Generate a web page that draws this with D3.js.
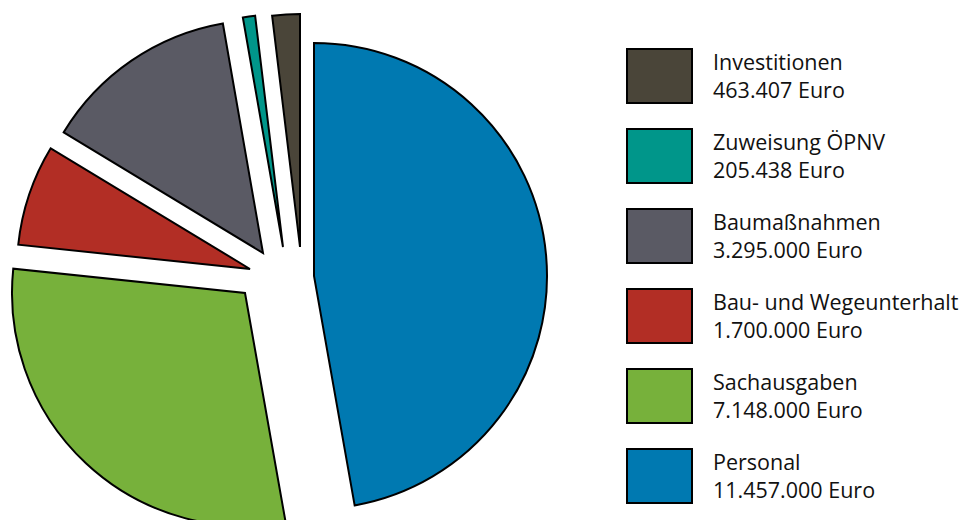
<!DOCTYPE html>
<html>
<head>
<meta charset="utf-8">
<script src="https://cdn.jsdelivr.net/npm/d3@7"></script>
<style>
  html, body { margin: 0; padding: 0; background: #fff; }
  svg { display: block; }
  .legend text { font-family: "Open Sans", "Noto Sans", sans-serif; font-size: 21.5px; fill: #111; font-variant-ligatures: none; }
</style>
</head>
<body>
<div id="chart"></div>
<script>
// pie order, clockwise from 12 o'clock
const categories = ["Personal", "Sachausgaben", "Bau- und Wegeunterhalt", "Baumaßnahmen", "Zuweisung ÖPNV", "Investitionen"];
const values = [11457000, 7148000, 1700000, 3295000, 205438, 463407];
const valueLabels = ["11.457.000 Euro", "7.148.000 Euro", "1.700.000 Euro", "3.295.000 Euro", "205.438 Euro", "463.407 Euro"];
const colors = ["#0079b1", "#77b13b", "#b22e25", "#5a5a64", "#00968a", "#4a4539"];

const width = 971, height = 520;
const radius = 233;
const center = { x: 290, y: 265 };
// hand-pulled slices: shift of each slice tip from the centre
const shifts = [[24, 11], [-45, 28], [-40, 4], [-27, -12], [-7, -18], [10, -18]];

const svg = d3.select("#chart").append("svg").attr("width", width).attr("height", height);

const pie = d3.pie().sort(null).value((d) => d.value);
const arc = d3.arc().innerRadius(0).outerRadius(radius);
const data = categories.map((name, i) => ({ name, value: values[i], label: valueLabels[i], color: colors[i], shift: shifts[i] }));

svg.append("g").attr("class", "slices")
  .selectAll("path").data(pie(data)).join("path")
  .attr("transform", (d) => `translate(${center.x + d.data.shift[0]},${center.y + d.data.shift[1]})`)
  .attr("d", arc)
  .attr("fill", (d) => d.data.color)
  .attr("stroke", "#000").attr("stroke-width", 2).attr("stroke-linejoin", "miter");

// legend lists the slices in reverse order
const legendData = data.slice().reverse();
const legendY = d3.scaleBand().domain(legendData.map((d) => d.name)).range([49, 529]).paddingInner(0);
const legend = svg.append("g").attr("class", "legend")
  .selectAll("g").data(legendData).join("g")
  .attr("transform", (d) => `translate(627,${legendY(d.name)})`);
legend.append("rect").attr("width", 65).attr("height", 54)
  .attr("fill", (d) => d.color).attr("stroke", "#000").attr("stroke-width", 2);
legend.append("text").attr("x", 86).attr("y", 21).text((d) => d.name);
legend.append("text").attr("x", 86).attr("y", 49).text((d) => d.label);
</script>
</body>
</html>
